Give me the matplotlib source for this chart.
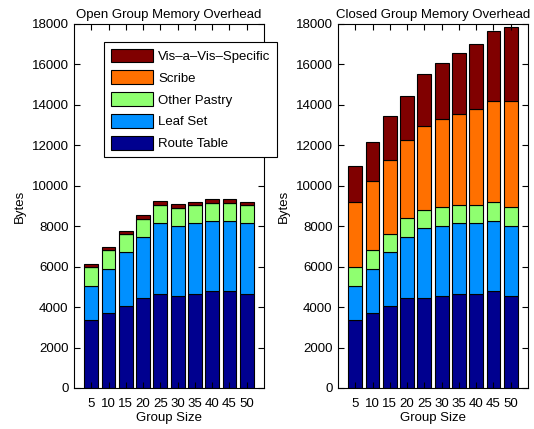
import numpy as np
import matplotlib
matplotlib.use("Agg")
from matplotlib import pyplot as plt

plt.rcParams['font.family'] = ['Liberation Sans', 'DejaVu Sans']
plt.rcParams['font.size'] = 9.5

group_sizes = [5, 10, 15, 20, 25, 30, 35, 40, 45, 50]
series = ['Route Table', 'Leaf Set', 'Other Pastry', 'Scribe', 'Vis–a–Vis–Specific']
colors = ['#00008f', '#0090ff', '#8fff70', '#ff7000', '#800000']

# cumulative tops (bytes) for the open group runs
open_tops = {
    'Route Table':        [3350, 3710, 4050, 4430, 4650, 4550, 4650, 4780, 4780, 4650],
    'Leaf Set':           [5050, 5890, 6700, 7490, 8170, 8030, 8170, 8270, 8270, 8170],
    'Other Pastry':       [5960, 6800, 7590, 8370, 9060, 8920, 9060, 9160, 9160, 9060],
    'Scribe':             [5960, 6800, 7590, 8370, 9060, 8920, 9060, 9160, 9160, 9060],
    'Vis–a–Vis–Specific': [6110, 6950, 7760, 8570, 9240, 9090, 9220, 9340, 9340, 9220],
}

# cumulative tops (bytes) for the closed group runs
closed_tops = {
    'Route Table':        [3350, 3710, 4050, 4430, 4450, 4550, 4650, 4650, 4780, 4550],
    'Leaf Set':           [5050, 5890, 6700, 7490, 7930, 8030, 8170, 8170, 8270, 8030],
    'Other Pastry':       [5960, 6800, 7620, 8400, 8820, 8950, 9050, 9050, 9180, 8950],
    'Scribe':             [9190, 10250, 11260, 12270, 12960, 13280, 13560, 13810, 14190, 14170],
    'Vis–a–Vis–Specific': [10970, 12180, 13450, 14430, 15550, 16070, 16580, 17030, 17650, 17860],
}


def stacked(ax, tops, title):
    x = np.array(group_sizes)
    base = np.zeros(len(x))
    handles = []
    for name, c in zip(series, colors):
        top = np.array(tops[name], dtype=float)
        h = ax.bar(x, top - base, width=4, bottom=base, color=c,
                   edgecolor='black', linewidth=0.8, label=name)
        handles.append(h)
        base = top
    ax.set_xlim(0, 55)
    ax.set_ylim(0, 18000)
    ax.set_xticks(group_sizes)
    ax.set_yticks(range(0, 18001, 2000))
    ax.tick_params(direction='in', top=True, right=True, length=4, pad=4)
    ax.tick_params(axis='x', pad=7)
    ax.set_xlabel('Group Size', labelpad=2)
    ax.set_ylabel('Bytes')
    ax.set_title(title, fontsize=9.5, pad=4)
    return handles


fig = plt.figure(figsize=(5.34, 4.29), dpi=100)
ax1 = fig.add_axes([0.1386, 0.0956, 0.3558, 0.8485])
ax2 = fig.add_axes([0.633, 0.0956, 0.3558, 0.8485])

handles = stacked(ax1, open_tops, 'Open Group Memory Overhead')
stacked(ax2, closed_tops, 'Closed Group Memory Overhead')

leg = ax1.legend(handles[::-1], series[::-1], loc='upper left',
                 bbox_to_anchor=(104 / 534, 1 - 42 / 429),
                 bbox_transform=fig.transFigure, fancybox=False,
                 framealpha=1, edgecolor='black', handlelength=3.2,
                 handleheight=1.2, labelspacing=0.58, handletextpad=0.4,
                 borderpad=0.5, borderaxespad=0)
leg.get_frame().set_linewidth(0.8)

fig.savefig('out.png', dpi=100)
